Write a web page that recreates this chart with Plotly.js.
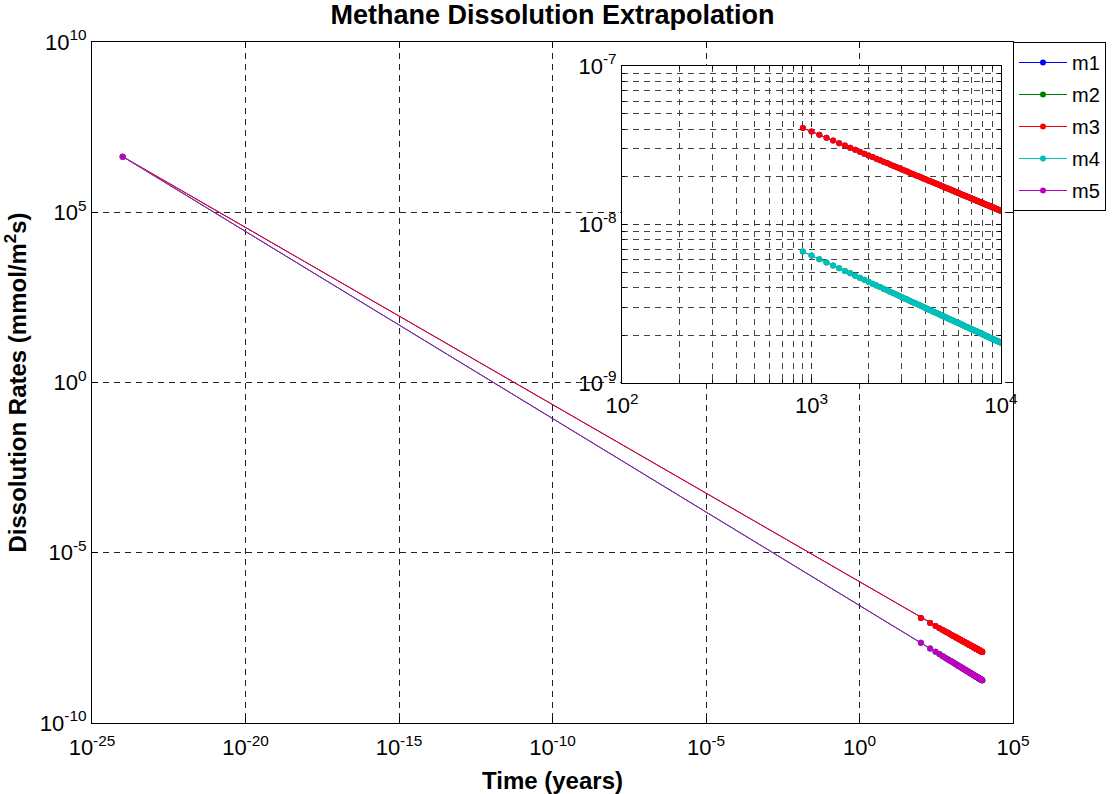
<!DOCTYPE html>
<html>
<head>
<meta charset="utf-8">
<script src="https://cdn.plot.ly/plotly-3.0.1.min.js"></script>
<style>html,body{margin:0;padding:0;background:#fff;}#chart{width:1112px;height:794px;}</style>
</head>
<body>
<div id="chart"></div>
<script>
// ---------- data ----------
const seriesNames = ['m1', 'm2', 'm3', 'm4', 'm5'];
const seriesColors = ['#0000ff', '#008000', '#ff0000', '#00bfbf', '#bf00bf'];

// first sample of every series (very small time)
const startTime = 1e-24;      // years
const startRate = 4.3e6;      // mmol/m^2 s

// later samples, years
const tYears = [100,200,300,400,500,600,700,800,900,1000,
  1100,1200,1300,1400,1500,1600,1700,1800,1900,2000,
  2100,2200,2300,2400,2500,2600,2700,2800,2900,3000,
  3100,3200,3300,3400,3500,3600,3700,3800,3900,4000,
  4100,4200,4300,4400,4500,4600,4700,4800,4900,5000,
  5100,5200,5300,5400,5500,5600,5700,5800,5900,6000,
  6100,6200,6300,6400,6500,6600,6700,6800,6900,7000,
  7100,7200,7300,7400,7500,7600,7700,7800,7900,8000,
  8100,8200,8300,8400,8500,8600,8700,8800,8900,9000,
  9100,9200,9300,9400,9500,9600,9700,9800,9900,10000];

// upper curve (m1, m3), in units of 1e-9 mmol/m^2 s
const rateHighNano = [122.0,86.27,70.44,61.00,54.56,49.81,46.11,43.13,40.67,38.58,
  36.78,35.22,33.84,32.61,31.50,30.50,29.59,28.76,27.99,27.28,
  26.62,26.01,25.44,24.90,24.40,23.93,23.48,23.06,22.65,22.27,
  21.91,21.57,21.24,20.92,20.62,20.33,20.06,19.79,19.54,19.29,
  19.05,18.83,18.60,18.39,18.19,17.99,17.80,17.61,17.43,17.25,
  17.08,16.92,16.76,16.60,16.45,16.30,16.16,16.02,15.88,15.75,
  15.62,15.49,15.37,15.25,15.13,15.02,14.90,14.79,14.69,14.58,
  14.48,14.38,14.28,14.18,14.09,13.99,13.90,13.81,13.73,13.64,
  13.56,13.47,13.39,13.31,13.23,13.16,13.08,13.01,12.93,12.86,
  12.79,12.72,12.65,12.58,12.52,12.45,12.39,12.32,12.26,12.20];

// lower curve (m2, m4, m5), in units of 1e-9 mmol/m^2 s
const rateLowNano = [22.60,15.44,12.35,10.54,9.326,8.436,7.750,7.201,6.750,6.370,
  6.044,5.761,5.513,5.293,5.096,4.918,4.757,4.610,4.475,4.351,
  4.236,4.129,4.029,3.936,3.849,3.767,3.689,3.616,3.547,3.481,
  3.419,3.360,3.303,3.249,3.198,3.149,3.102,3.057,3.013,2.972,
  2.932,2.893,2.856,2.820,2.786,2.752,2.720,2.689,2.658,2.629,
  2.601,2.573,2.546,2.520,2.495,2.470,2.446,2.423,2.400,2.378,
  2.357,2.336,2.315,2.295,2.276,2.257,2.238,2.220,2.202,2.185,
  2.168,2.151,2.135,2.119,2.103,2.088,2.073,2.058,2.044,2.030,
  2.016,2.002,1.989,1.976,1.963,1.950,1.938,1.926,1.914,1.902,
  1.891,1.879,1.868,1.857,1.846,1.836,1.826,1.815,1.805,1.795];

const seriesCurves = [rateHighNano, rateLowNano, rateHighNano, rateLowNano, rateLowNano];
const insetSeries = ['m1', 'm2', 'm3', 'm4'];
const insetStartYear = 900;

// tick labels
const mainXTickVals = [1e-25, 1e-20, 1e-15, 1e-10, 1e-5, 1, 1e5];
const mainXTickText = ['10<sup>-25</sup>', '10<sup>-20</sup>', '10<sup>-15</sup>', '10<sup>-10</sup>', '10<sup>-5</sup>', '10<sup>0</sup>', '10<sup>5</sup>'];
const mainYTickVals = [1e-10, 1e-5, 1, 1e5, 1e10];
const mainYTickText = ['10<sup>-10</sup>', '10<sup>-5</sup>', '10<sup>0</sup>', '10<sup>5</sup>', '10<sup>10</sup>'];
const insetXTickVals = [100, 1000, 10000];
const insetXTickText = ['10<sup>2</sup>', '10<sup>3</sup>', '10<sup>4</sup>'];
const insetXMinorVals = [200,300,400,500,600,700,800,900,2000,3000,4000,5000,6000,7000,8000,9000];
const insetYTickVals = [1e-9, 1e-8, 1e-7];
const insetYTickText = ['10<sup>-9</sup>', '10<sup>-8</sup>', '10<sup>-7</sup>'];
const insetYMinorVals = [2e-9,3e-9,4e-9,5e-9,6e-9,7e-9,8e-9,9e-9,2e-8,3e-8,4e-8,5e-8,6e-8,7e-8,8e-8,9e-8];

// ---------- figure ----------
const FONT = 'Liberation Sans, Arial, Helvetica, sans-serif';
const NANO = 1e-9;
const traces = [];

seriesNames.forEach((name, i) => {
  const curve = seriesCurves[i];
  traces.push({
    type: 'scatter', mode: 'lines+markers', name: name,
    x: [startTime].concat(tYears),
    y: [startRate].concat(curve.map(v => v * NANO)),
    xaxis: 'x', yaxis: 'y',
    line: {color: seriesColors[i], width: 1},
    marker: {color: seriesColors[i], size: 6},
    legendgroup: name,
    hoverinfo: 'x+y+name'
  });
});

insetSeries.forEach(name => {
  const i = seriesNames.indexOf(name);
  const curve = seriesCurves[i];
  const xs = [], ys = [];
  tYears.forEach((t, j) => { if (t >= insetStartYear) { xs.push(t); ys.push(curve[j] * NANO); } });
  traces.push({
    type: 'scatter', mode: 'lines+markers', name: name,
    x: xs, y: ys, xaxis: 'x2', yaxis: 'y2',
    line: {color: seriesColors[i], width: 1},
    marker: {color: seriesColors[i], size: 6},
    showlegend: false, legendgroup: name
  });
});

const L = 92, R = 1013, T = 42, B = 723;
const W = 1112, H = 794;
const pw = R - L, ph = B - T;
const insetBox = {x0: 622, x1: 1001, y0: 66, y1: 383};

const tickFont = {family: FONT, size: 22, color: '#000'};
const minorGrid = {
  tickmode: 'array', tickvals: null, ticks: 'inside', ticklen: 3, tickcolor: '#000',
  showgrid: true, gridcolor: '#444', gridwidth: 1, griddash: '6px,5px'
};

const layout = {
  width: W, height: H,
  margin: {l: L, r: W - R, t: T, b: H - B, autoexpand: false},
  paper_bgcolor: '#fff', plot_bgcolor: '#fff',
  font: {family: FONT, color: '#000'},
  title: {
    text: '<b>Methane Dissolution Extrapolation</b>',
    font: {family: FONT, size: 27, color: '#000'},
    x: 0.5, xref: 'paper', xanchor: 'center',
    y: 1 - 15 / H, yref: 'container', yanchor: 'middle'
  },
  showlegend: true,
  legend: {
    x: 1, xanchor: 'left', y: 1, yanchor: 'top', xref: 'paper', yref: 'paper',
    bgcolor: '#fff', bordercolor: '#000', borderwidth: 1,
    font: {family: FONT, size: 20, color: '#000'},
    itemwidth: 48, tracegroupgap: 3, traceorder: 'grouped'
  },
  xaxis: {
    type: 'log', range: [-25, 5], domain: [0, 1], anchor: 'y',
    tickvals: mainXTickVals, ticktext: mainXTickText, tickfont: tickFont,
    ticks: 'inside', ticklen: 6, tickcolor: '#000', ticklabelstandoff: 5,
    showline: true, linecolor: '#000', linewidth: 1, mirror: 'ticks',
    showgrid: true, gridcolor: '#222', gridwidth: 1, griddash: '6px,5px',
    zeroline: false,
    title: {text: '<b>Time (years)</b>', font: {family: FONT, size: 24, color: '#000'}, standoff: 12}
  },
  yaxis: {
    type: 'log', range: [-10, 10], domain: [0, 1], anchor: 'x',
    tickvals: mainYTickVals, ticktext: mainYTickText, tickfont: tickFont,
    ticks: 'inside', ticklen: 6, tickcolor: '#000',
    showline: true, linecolor: '#000', linewidth: 1, mirror: 'ticks',
    showgrid: true, gridcolor: '#222', gridwidth: 1, griddash: '6px,5px',
    zeroline: false,
    title: {text: '<b>Dissolution Rates (mmol/m<sup>2</sup>s)</b>', font: {family: FONT, size: 24, color: '#000'}, standoff: 6}
  },
  xaxis2: {
    type: 'log', range: [2, 4], anchor: 'y2',
    domain: [(insetBox.x0 - L) / pw, (insetBox.x1 - L) / pw],
    tickmode: 'array', tickvals: insetXTickVals, ticktext: insetXTickText, tickfont: tickFont,
    ticks: 'inside', ticklen: 5, tickcolor: '#000', ticklabelstandoff: 3,
    showline: true, linecolor: '#000', linewidth: 1, mirror: 'ticks',
    showgrid: true, gridcolor: '#333', gridwidth: 1, griddash: '6px,5px',
    minor: Object.assign({}, minorGrid, {tickvals: insetXMinorVals}),
    zeroline: false
  },
  yaxis2: {
    type: 'log', range: [-9, -7], anchor: 'x2',
    domain: [(B - insetBox.y1) / ph, (B - insetBox.y0) / ph],
    tickmode: 'array', tickvals: insetYTickVals, ticktext: insetYTickText, tickfont: tickFont,
    ticks: 'inside', ticklen: 5, tickcolor: '#000',
    showline: true, linecolor: '#000', linewidth: 1, mirror: 'ticks',
    showgrid: true, gridcolor: '#333', gridwidth: 1, griddash: '6px,5px',
    minor: Object.assign({}, minorGrid, {tickvals: insetYMinorVals}),
    zeroline: false
  }
};

Plotly.newPlot('chart', traces, layout, {displayModeBar: false, staticPlot: true});
</script>
</body>
</html>
